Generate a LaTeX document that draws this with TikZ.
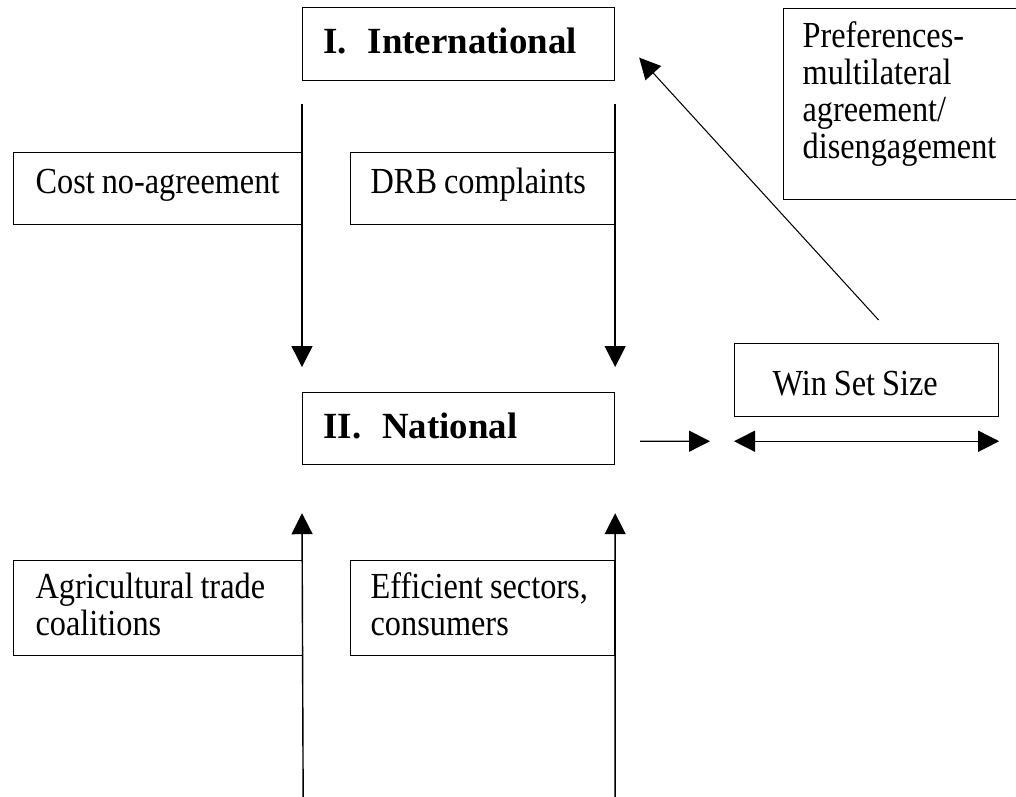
\documentclass[tikz,border=0pt]{standalone}
\usepackage{fontspec}
\setmainfont{Liberation Serif}[FakeStretch=0.88]
\newfontfamily\headfont{Liberation Serif}
\usetikzlibrary{arrows.meta}

\newcommand\tightspaces{\spaceskip=0.19em plus 0.05em minus 0.03em\relax}
\newcommand\headspaces{\spaceskip=0.28em\relax}

\tikzset{
  >={Triangle[length=0.42cm,width=0.42cm]},
  box/.style={draw, line width=0.7pt, anchor=north west, align=left, inner ysep=0pt,
              font=\fontsize{20.9pt}{21pt}\selectfont, execute at begin node=\tightspaces},
  level/.style={box, font=\headfont\bfseries\fontsize{21pt}{25pt}\selectfont,
                execute at begin node=\headspaces},
  flow/.style={line width=0.8pt, ->},
}

\begin{document}
\begin{tikzpicture}[x=0.02cm, y=-0.02cm]

          \useasboundingbox (0,0) rectangle (1016,796);

          % The two levels of the game
          \node[level, minimum width=6.24cm, minimum height=1.46cm, text width=5.40cm,
                inner xsep=0.42cm, text height=0.5cm, text depth=0.12cm] (intl) at (302,7) {I.\ \ International};
          \node[level, minimum width=6.24cm, minimum height=1.44cm, text width=5.40cm,
                inner xsep=0.42cm, text height=0.5cm, text depth=0.10cm] (nat) at (302,392) {II.\ \ National};

          % Pressures from above
          \node[box, minimum width=5.78cm, minimum height=1.44cm, text width=4.90cm,
                inner xsep=0.44cm, text height=0.44cm, text depth=0.24cm] (cost) at (13,152) {\mbox{Cost no-agreement}};
          \node[box, minimum width=5.28cm, minimum height=1.44cm, text width=4.48cm,
                inner xsep=0.40cm, text height=0.44cm, text depth=0.24cm] (drb) at (350,152) {DRB complaints};

          % Pressures from below
          \node[box, minimum width=5.78cm, minimum height=1.90cm, text width=4.90cm,
                inner xsep=0.44cm, text height=0.44cm, text depth=0.82cm] (agri) at (13,560) {Agricultural trade\\coalitions};
          \node[box, minimum width=5.28cm, minimum height=1.90cm, text width=4.48cm,
                inner xsep=0.40cm, text height=0.44cm, text depth=0.82cm] (eff) at (350,560) {Efficient sectors,\\consumers};

          % Right hand side
          \node[box, minimum width=4.96cm, minimum height=3.82cm, text width=4.20cm,
                inner xsep=0.38cm, text height=0.44cm, text depth=2.70cm] (pref) at (783,8)
                {Preferences-\\multilateral\\agreement/\\disengagement};
          \node[box, minimum width=5.28cm, minimum height=1.46cm, text width=3.76cm,
                inner xsep=0.76cm, text height=0.62cm, text depth=0cm] (win) at (734,343) {Win Set Size};

          % Arrows down to the national level and up from below
          \foreach \s in {west,east} {
              \draw[flow] ([yshift=-0.46cm]intl.south \s) -- ([yshift=0.5cm]nat.north \s);
          }
          \draw[flow] ([yshift=-2.9cm]agri.south east) -- ([yshift=-0.96cm]nat.south west);
          \draw[flow] ([yshift=-2.9cm]eff.south east) -- ([yshift=-0.96cm]nat.south east);

          % Win set
          \draw[flow] ([shift={(0.5cm,0.48cm)}]nat.south east) -- ([shift={(-0.48cm,-0.48cm)}]win.south west);
          \draw[flow, <->] ([yshift=-0.48cm]win.south west) -- ([yshift=-0.48cm]win.south east);
          \draw[line width=0.6pt, ->] ([shift={(0.24cm,0.46cm)}]win.north) -- ([shift={(0.48cm,-0.27cm)}]intl.east);

\end{tikzpicture}
\end{document}
